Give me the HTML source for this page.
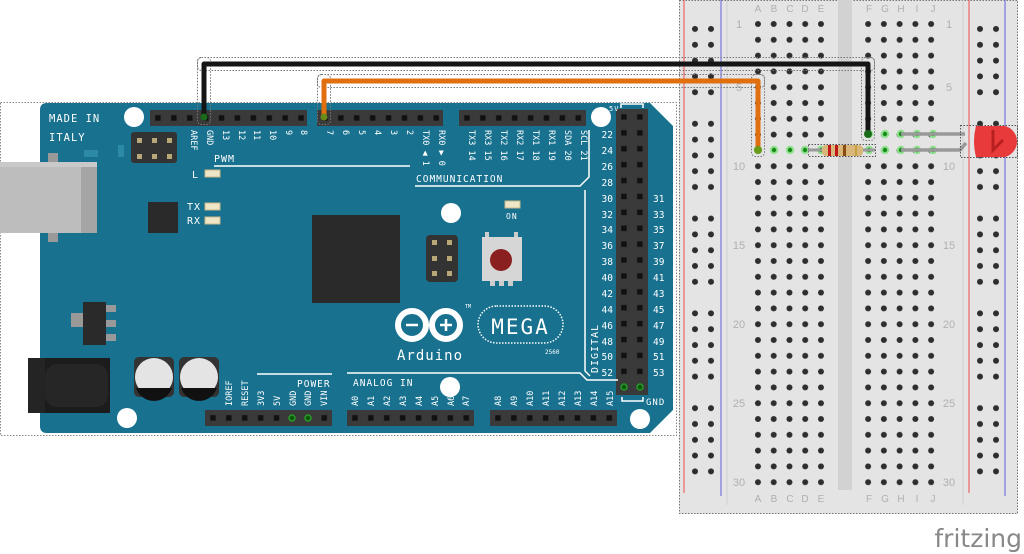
<!DOCTYPE html>
<html><head><meta charset="utf-8"><style>
html,body{margin:0;padding:0;background:#fff;width:1024px;height:554px;overflow:hidden}
svg{display:block}
</style></head><body>
<svg width="1024" height="554" viewBox="0 0 1024 554" xmlns="http://www.w3.org/2000/svg" font-family="'DejaVu Sans Mono','Liberation Mono',monospace">
<defs>
<pattern id="pins" x="0" y="0" width="15.9" height="15.9" patternUnits="userSpaceOnUse">
<rect x="5.2" y="5.2" width="5.5" height="5.5" fill="#111"/></pattern>
<pattern id="grid" x="750.1" y="16.1" width="15.75" height="15.8" patternUnits="userSpaceOnUse">
<circle cx="7.875" cy="7.9" r="3" fill="#2e2e2e"/></pattern>
<pattern id="rail" x="687" y="21.1" width="16" height="94.8" patternUnits="userSpaceOnUse">
<circle cx="8" cy="7.9" r="3" fill="#2e2e2e"/><circle cx="8" cy="23.7" r="3" fill="#2e2e2e"/><circle cx="8" cy="39.5" r="3" fill="#2e2e2e"/><circle cx="8" cy="55.3" r="3" fill="#2e2e2e"/><circle cx="8" cy="71.1" r="3" fill="#2e2e2e"/></pattern>
<pattern id="rail2" x="972" y="21.1" width="16" height="94.8" patternUnits="userSpaceOnUse">
<circle cx="8" cy="7.9" r="3" fill="#2e2e2e"/><circle cx="8" cy="23.7" r="3" fill="#2e2e2e"/><circle cx="8" cy="39.5" r="3" fill="#2e2e2e"/><circle cx="8" cy="55.3" r="3" fill="#2e2e2e"/><circle cx="8" cy="71.1" r="3" fill="#2e2e2e"/></pattern>
</defs>

<!-- BREADBOARD -->
<rect x="679" y="0" width="339" height="514" fill="#e4e4e4"/>
<rect x="679.5" y="0.5" width="338" height="513" fill="none" stroke="#777" stroke-dasharray="1.5,1.5"/>
<rect x="838" y="0" width="14" height="490" fill="#d2d2d2"/>
<line x1="684" y1="0" x2="684" y2="493" stroke="#e66" stroke-width="1.2"/>
<line x1="721" y1="0" x2="721" y2="496" stroke="#77d" stroke-width="1.2"/>
<line x1="969" y1="0" x2="969" y2="493" stroke="#e66" stroke-width="1.2"/>
<line x1="1005" y1="0" x2="1005" y2="496" stroke="#77d" stroke-width="1.2"/>
<line x1="727" y1="0" x2="727" y2="505" stroke="#d0d0d0"/>
<line x1="963" y1="0" x2="963" y2="505" stroke="#d0d0d0"/>
<rect x="750" y="16" width="79" height="474" fill="url(#grid)"/>
<rect x="861" y="16" width="79" height="474" fill="url(#grid)" transform="translate(-0.1,0)"/>
<rect x="687" y="21" width="32" height="455" fill="url(#rail)"/>
<rect x="972" y="21" width="32" height="455" fill="url(#rail2)"/>
<g fill="#b0b0b0" font-family="'Liberation Sans',sans-serif" font-size="10" text-anchor="middle">
<text x="758" y="12">A</text><text x="774" y="12">B</text><text x="790" y="12">C</text><text x="805" y="12">D</text><text x="821" y="12">E</text>
<text x="869" y="12">F</text><text x="885" y="12">G</text><text x="901" y="12">H</text><text x="917" y="12">I</text><text x="933" y="12">J</text>
<text x="758" y="502">A</text><text x="774" y="502">B</text><text x="790" y="502">C</text><text x="805" y="502">D</text><text x="821" y="502">E</text>
<text x="869" y="502">F</text><text x="885" y="502">G</text><text x="901" y="502">H</text><text x="917" y="502">I</text><text x="933" y="502">J</text>
<g font-size="11">
<text x="739" y="28">1</text><text x="739" y="91">5</text><text x="739" y="170">10</text><text x="739" y="249">15</text><text x="739" y="328">20</text><text x="739" y="407">25</text><text x="739" y="486">30</text>
<text x="949" y="28">1</text><text x="949" y="91">5</text><text x="949" y="170">10</text><text x="949" y="249">15</text><text x="949" y="328">20</text><text x="949" y="407">25</text><text x="949" y="486">30</text>
</g></g>
<g fill="#1a8a1a" stroke="#8fe08f" stroke-width="2">
<circle cx="758" cy="150" r="3.2"/><circle cx="774" cy="150" r="3.2"/><circle cx="790" cy="150" r="3.2"/><circle cx="805" cy="150" r="3.2"/><circle cx="821" cy="150" r="3.2"/>
<circle cx="869" cy="150" r="3.2"/><circle cx="885" cy="150" r="3.2"/><circle cx="901" cy="150" r="3.2"/><circle cx="917" cy="150" r="3.2"/><circle cx="933" cy="150" r="3.2"/>
<circle cx="869" cy="134" r="3.2"/><circle cx="885" cy="134" r="3.2"/><circle cx="901" cy="134" r="3.2"/><circle cx="917" cy="134" r="3.2"/><circle cx="933" cy="134" r="3.2"/>
</g>

<!-- ARDUINO -->
<rect x="0.5" y="102.5" width="676" height="333" fill="none" stroke="#888" stroke-dasharray="1.5,1.5"/>
<path d="M47,103 H650 L673,126 V410 L650,433 H47 Q40,433 40,426 V110 Q40,103 47,103 Z" fill="#17718f"/>
<rect x="48" y="153" width="10" height="10" fill="#999"/><rect x="48" y="232" width="10" height="10" fill="#999"/>
<rect x="0" y="162" width="97" height="71" fill="#bdbdbd"/>
<rect x="81" y="162" width="16" height="71" fill="#a5a5a5"/>
<rect x="0" y="162" width="97" height="5" fill="#c9c9c9"/>
<rect x="148" y="202" width="30" height="31" fill="#2a2a2a"/>
<rect x="131" y="132" width="46" height="31" rx="3" fill="#333"/>
<g fill="#b8a878"><rect x="137" y="138" width="5" height="5"/><rect x="152" y="138" width="5" height="5"/><rect x="167" y="138" width="5" height="5"/><rect x="137" y="154" width="5" height="5"/><rect x="152" y="154" width="5" height="5"/><rect x="167" y="154" width="5" height="5"/></g>
<rect x="84" y="150" width="14" height="7" fill="#2c8aa8"/><rect x="118" y="145" width="6" height="12" fill="#2c8aa8"/>
<rect x="71" y="313" width="13" height="14" fill="#999"/>
<rect x="106" y="305" width="10" height="7" fill="#999"/><rect x="106" y="320" width="10" height="7" fill="#999"/><rect x="106" y="334" width="10" height="7" fill="#999"/>
<rect x="83" y="302" width="23" height="43" fill="#2a2a2a"/>
<rect x="28" y="358" width="82" height="55" fill="#1c1c1c"/>
<rect x="28" y="358" width="17" height="55" fill="#242424"/>
<rect x="45" y="364" width="63" height="43" rx="12" fill="#262626"/>
<g><rect x="134" y="357" width="40" height="40" rx="5" fill="#333"/><circle cx="154" cy="377" r="19" fill="#e4e4e4"/><path d="M136,388 H172 A19,19 0 0 1 136,388 Z" fill="#111"/></g>
<g><rect x="179" y="357" width="40" height="40" rx="5" fill="#333"/><circle cx="199" cy="377" r="19" fill="#e4e4e4"/><path d="M181,388 H217 A19,19 0 0 1 181,388 Z" fill="#111"/></g>
<rect x="312" y="215" width="88" height="88" fill="#2a2a2a"/>
<g fill="#fff"><circle cx="134" cy="117" r="10"/><circle cx="601" cy="117" r="10"/><circle cx="451" cy="213" r="10"/><circle cx="127" cy="418" r="10"/><circle cx="450" cy="387" r="10"/><circle cx="640" cy="419" r="10"/></g>
<g transform="translate(150,110)"><rect width="157" height="16" fill="#3a3a3a"/><rect width="157" height="16" fill="url(#pins)"/></g>
<g transform="translate(317,110)"><rect width="126" height="16" fill="#3a3a3a"/><rect width="126" height="16" fill="url(#pins)"/></g>
<g transform="translate(459,110)"><rect width="127" height="16" fill="#3a3a3a"/><rect width="127" height="16" fill="url(#pins)"/></g>
<g transform="translate(616,109)"><rect width="32" height="286" fill="#3a3a3a"/><rect width="32" height="286" fill="url(#pins)"/></g>
<g transform="translate(205,410)"><rect width="127" height="16" fill="#3a3a3a"/><rect width="127" height="16" fill="url(#pins)"/></g>
<g transform="translate(347,410)"><rect width="127" height="16" fill="#3a3a3a"/><rect width="127" height="16" fill="url(#pins)"/></g>
<g transform="translate(490,410)"><rect width="127" height="16" fill="#3a3a3a"/><rect width="127" height="16" fill="url(#pins)"/></g>
<g fill="#0a5a0a" stroke="#2a9a2a" stroke-width="1.5"><circle cx="292" cy="418" r="3"/><circle cx="308" cy="418" r="3"/><circle cx="624" cy="387" r="3"/><circle cx="640" cy="387" r="3"/></g>
<rect x="426" y="235" width="32" height="47" rx="4" fill="#333"/>
<g fill="#b8a878"><rect x="432" y="240" width="5" height="5"/><rect x="447" y="240" width="5" height="5"/><rect x="432" y="256" width="5" height="5"/><rect x="447" y="256" width="5" height="5"/><rect x="432" y="271" width="5" height="5"/><rect x="447" y="271" width="5" height="5"/></g>
<rect x="485" y="232" width="4" height="5" fill="#ccc"/><rect x="514" y="232" width="4" height="5" fill="#ccc"/>
<rect x="482" y="237" width="40" height="44" fill="#d6d6d6"/>
<rect x="490" y="281" width="5" height="5" fill="#ccc"/><rect x="499" y="281" width="5" height="5" fill="#ccc"/><rect x="508" y="281" width="5" height="5" fill="#ccc"/>
<circle cx="501" cy="260" r="11" fill="#8b2020"/>
<g fill="#efe6c8" stroke="#c8b888" stroke-width="1"><rect x="205" y="170" width="15" height="7"/><rect x="205" y="203" width="15" height="7"/><rect x="205" y="217" width="15" height="7"/><rect x="505" y="201" width="15" height="7"/></g>
<g stroke="#fff" stroke-width="1.5" fill="none">
<path d="M214,166 H410"/>
<path d="M415,186 H580 L589,177 V130"/>
<path d="M585,190 V371 L590,376"/>
<path d="M347,373 H580 L587,380 H618"/>
<path d="M257,374 H332"/>
<path d="M622,397 V401 H643 V397"/>
<path d="M621,108 V104 H643 V108"/>
</g>
<g fill="#fff" font-size="10.5" letter-spacing="1">
<text x="49" y="122">MADE IN</text><text x="49" y="141">ITALY</text>
<text x="214" y="162" font-size="10">PWM</text>
<text x="192" y="178" font-size="10">L</text>
<text x="187" y="210" font-size="10">TX</text><text x="187" y="224" font-size="10">RX</text>
<text x="506" y="219" font-size="8">ON</text>
<text x="416" y="182" font-size="9.5">COMMUNICATION</text>
<text x="297" y="387" font-size="9.5">POWER</text>
<text x="353" y="386" font-size="9.5">ANALOG IN</text>
<text x="646" y="405" font-size="9">GND</text>
<text x="609" y="111" font-size="7">5V</text>
<text x="598" y="373" font-size="10" transform="rotate(-90 598 373)">DIGITAL</text>
<text x="397" y="360" font-size="14" letter-spacing="1">Arduino</text>
<text x="545" y="354" font-size="6" letter-spacing="0">2560</text>
<text x="465" y="308" font-size="5" letter-spacing="0">TM</text>
</g>
<g stroke="#fff" stroke-width="6" fill="none"><circle cx="412" cy="325" r="14"/><circle cx="446" cy="325" r="14"/></g>
<g stroke="#fff" stroke-width="2.5"><path d="M406,325 H418"/><path d="M440,325 H452 M446,319 V331"/></g>
<rect x="478" y="306" width="85" height="37" rx="18.5" fill="none" stroke="#fff" stroke-width="1.5" stroke-dasharray="1.5,1.5"/>
<text x="520.5" y="334" fill="#fff" font-size="21" text-anchor="middle" letter-spacing="2">MEGA</text>
<g fill="#fff" font-size="8.5">
<text transform="translate(191,130) rotate(90)">AREF</text>
<text transform="translate(207,130) rotate(90)">GND</text>
<text transform="translate(223,130) rotate(90)">13</text>
<text transform="translate(239,130) rotate(90)">12</text>
<text transform="translate(254,130) rotate(90)">11</text>
<text transform="translate(270,130) rotate(90)">10</text>
<text transform="translate(286,130) rotate(90)">9</text>
<text transform="translate(301,130) rotate(90)">8</text>
<text transform="translate(327,130) rotate(90)">7</text>
<text transform="translate(343,130) rotate(90)">6</text>
<text transform="translate(359,130) rotate(90)">5</text>
<text transform="translate(375,130) rotate(90)">4</text>
<text transform="translate(391,130) rotate(90)">3</text>
<text transform="translate(407,130) rotate(90)">2</text>
<text transform="translate(423,130) rotate(90)">TX0 ◀ 1</text>
<text transform="translate(439,130) rotate(90)">RX0 ▶ 0</text>
<text transform="translate(469,130) rotate(90)">TX3 14</text>
<text transform="translate(485,130) rotate(90)">RX3 15</text>
<text transform="translate(501,130) rotate(90)">TX2 16</text>
<text transform="translate(517,130) rotate(90)">RX2 17</text>
<text transform="translate(533,130) rotate(90)">TX1 18</text>
<text transform="translate(549,130) rotate(90)">RX1 19</text>
<text transform="translate(565,130) rotate(90)">SDA 20</text>
<text transform="translate(581,130) rotate(90)">SCL 21</text>
<text transform="translate(232,406) rotate(-90)">IOREF</text>
<text transform="translate(248,406) rotate(-90)">RESET</text>
<text transform="translate(264,406) rotate(-90)">3V3</text>
<text transform="translate(280,406) rotate(-90)">5V</text>
<text transform="translate(296,406) rotate(-90)">GND</text>
<text transform="translate(311,406) rotate(-90)">GND</text>
<text transform="translate(327,406) rotate(-90)">VIN</text>
<text transform="translate(358,406) rotate(-90)">A0</text>
<text transform="translate(374,406) rotate(-90)">A1</text>
<text transform="translate(390,406) rotate(-90)">A2</text>
<text transform="translate(406,406) rotate(-90)">A3</text>
<text transform="translate(422,406) rotate(-90)">A4</text>
<text transform="translate(438,406) rotate(-90)">A5</text>
<text transform="translate(454,406) rotate(-90)">A6</text>
<text transform="translate(469,406) rotate(-90)">A7</text>
<text transform="translate(501,406) rotate(-90)">A8</text>
<text transform="translate(517,406) rotate(-90)">A9</text>
<text transform="translate(533,406) rotate(-90)">A10</text>
<text transform="translate(549,406) rotate(-90)">A11</text>
<text transform="translate(565,406) rotate(-90)">A12</text>
<text transform="translate(581,406) rotate(-90)">A13</text>
<text transform="translate(597,406) rotate(-90)">A14</text>
<text transform="translate(613,406) rotate(-90)">A15</text>
</g>
<g fill="#fff" font-size="9.5">
<g text-anchor="end">
<text x="613" y="138">22</text><text x="613" y="154">24</text><text x="613" y="170">26</text><text x="613" y="186">28</text><text x="613" y="202">30</text><text x="613" y="218">32</text><text x="613" y="233">34</text><text x="613" y="249">36</text><text x="613" y="265">38</text><text x="613" y="281">40</text><text x="613" y="297">42</text><text x="613" y="313">44</text><text x="613" y="329">46</text><text x="613" y="345">48</text><text x="613" y="360">50</text><text x="613" y="376">52</text>
</g>
<text x="653" y="202">31</text><text x="653" y="218">33</text><text x="653" y="233">35</text><text x="653" y="249">37</text><text x="653" y="265">39</text><text x="653" y="281">41</text><text x="653" y="297">43</text><text x="653" y="313">45</text><text x="653" y="329">47</text><text x="653" y="345">49</text><text x="653" y="360">51</text><text x="653" y="376">53</text>
</g>

<!-- RESISTOR -->
<rect x="808.5" y="144.5" width="67" height="12" fill="none" stroke="#555" stroke-dasharray="1.5,1.5"/>
<line x1="808" y1="150" x2="875" y2="150" stroke="#999" stroke-width="3"/>
<rect x="822" y="145" width="41" height="11" rx="4" fill="#d9b77a"/>
<rect x="828" y="145" width="3" height="11" fill="#c01818"/><rect x="835" y="145" width="3" height="11" fill="#c01818"/><rect x="843" y="145" width="3" height="11" fill="#8a4a10"/><rect x="855" y="145" width="2" height="11" fill="#c8a040"/>

<!-- LED -->
<path d="M901,134 H965 M901,150 H960 L966,143" stroke="#999" stroke-width="3.5" fill="none"/>
<rect x="960.5" y="125.5" width="57" height="32" fill="none" stroke="#555" stroke-dasharray="1.5,1.5"/>
<path d="M976,126 H1005 A16,16 0 0 1 1005,157 H976 Q972,141 976,126 Z" fill="#e83a3a"/>
<path d="M993,130 V150 L1003,140" stroke="#b82020" stroke-width="3" fill="none"/>

<!-- WIRES -->
<g fill="none" stroke="#777" stroke-dasharray="1.5,1.5">
<rect x="197.5" y="57.5" width="677" height="13" rx="4"/>
<rect x="197.5" y="57.5" width="13" height="67" rx="4"/>
<rect x="861.5" y="57.5" width="13" height="83" rx="4"/>
<rect x="317.5" y="74.5" width="447" height="13" rx="4"/>
<rect x="317.5" y="74.5" width="13" height="50" rx="4"/>
<rect x="751.5" y="74.5" width="13" height="82" rx="4"/>
</g>
<path d="M204,117 V64 H868 V134" stroke="#151515" stroke-width="5" fill="none" stroke-linejoin="round"/>
<path d="M324,117 V81 H758 V150" stroke="#e0700f" stroke-width="5" fill="none" stroke-linejoin="round"/>
<circle cx="204" cy="117" r="3.5" fill="#1a6a1a"/><circle cx="324" cy="117" r="3.5" fill="#6a8a1a"/>
<circle cx="868" cy="134" r="4" fill="#1a6a1a"/><circle cx="758" cy="150" r="4" fill="#6a9a1a"/>

<text x="1022" y="547" fill="#888" font-family="'DejaVu Sans','Liberation Sans',sans-serif" font-size="25" text-anchor="end">fritzing</text>
</svg>
</body></html>
